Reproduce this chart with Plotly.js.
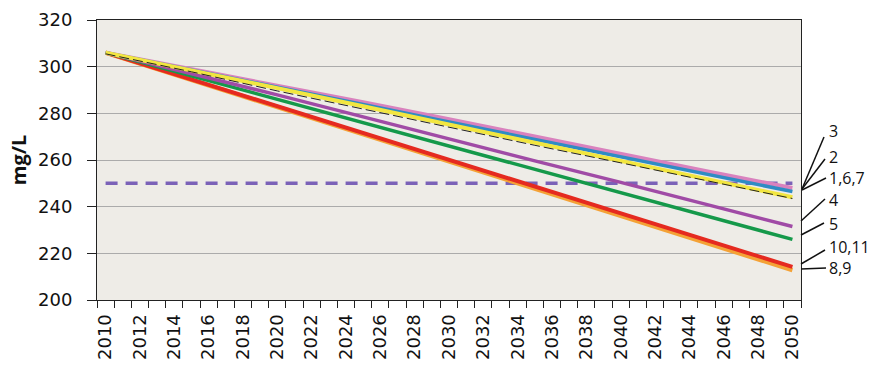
<!DOCTYPE html>
<html>
<head>
<meta charset="utf-8">
<script src="https://cdn.plot.ly/plotly-3.0.1.min.js"></script>
<style>html,body{margin:0;padding:0;background:#fff;}#chart{width:869px;height:369px;}</style>
</head>
<body>
<div id="chart"></div>
<script>
// ---- data ----
var years = [2010, 2015, 2020, 2025, 2030, 2035, 2040, 2045, 2050];
var tickYears = [2010,2012,2014,2016,2018,2020,2022,2024,2026,2028,2030,2032,2034,2036,2038,2040,2042,2044,2046,2048,2050];
var s3    = [306, 299.0, 292.0, 284.8, 277.5, 270.0, 262.6, 255.2, 248.0];
var s2    = [306, 298.7, 291.3, 283.8, 276.3, 268.8, 261.3, 253.9, 246.5];
var s167y = [306, 298.5, 290.8, 283.0, 275.2, 267.4, 259.6, 251.8, 244.0];
var s167k = [305.5, 297.8, 289.6, 281.8, 274.0, 266.3, 258.8, 251.0, 243.5];
var s4    = [306, 297.0, 287.9, 278.5, 269.0, 259.6, 250.4, 241.0, 231.5];
var s5    = [306, 296.0, 286.0, 276.0, 266.0, 256.0, 246.0, 236.0, 226.0];
var s89   = [306, 294.3, 282.6, 271.0, 259.3, 247.7, 236.0, 224.4, 212.8];
var s1011 = [306, 294.5, 283.0, 271.5, 260.0, 248.5, 237.0, 225.5, 214.2];
var standardYears = [2010, 2050];
var standard = [250, 250];
var labelTexts = ["3", "2", "1,6,7", "4", "5", "10,11", "8,9"];

// ---- layout helpers (plot area in pixels: x 97..801, y 20..300) ----
function px(x){ return (x - 97) / 704; }
function py(y){ return (300 - y) / 280; }

function line(x, y, color, width, dash){
  return {x: x, y: y, type: 'scatter', mode: 'lines', showlegend: false, hoverinfo: 'skip',
          line: {color: color, width: width, dash: dash || 'solid'}};
}

var traces = [
  line(standardYears, standard, '#7B62B8', 3.5, '12px,8px'),
  line(years, s89, '#F4A236', 4.5),
  line(years, s1011, '#E52A20', 4),
  line(years, s5, '#15994A', 3.5),
  line(years, s4, '#A04BA6', 3.5),
  line(years, s3, '#D982BE', 4),
  line(years, s2, '#2F8CC4', 3.5),
  line(years, s167y, '#F2E640', 4),
  line(years, s167k, '#222222', 1, '10px,4px')
];

var labelY = [131, 157, 178, 200, 224, 247, 268];
var leaderFrom = [[802,189],[802,189],[802,190],[801,221],[801,235],[801,264],[801,269]];
var leaderTo   = [[824,137],[825,159],[826,178],[825,199],[824,223],[825,250],[826,268]];

var annotations = labelTexts.map(function(t, i){
  return {xref:'paper', yref:'paper', x: px(827), y: py(labelY[i]), xanchor:'left', yanchor:'middle',
          text: t, showarrow:false, font:{family:'Open Sans', size:16, color:'#111'}};
});
var shapes = labelTexts.map(function(t, i){
  return {type:'line', xref:'paper', yref:'paper',
          x0: px(leaderFrom[i][0]), y0: py(leaderFrom[i][1]),
          x1: px(leaderTo[i][0]), y1: py(leaderTo[i][1]),
          line:{color:'#111', width:1.5}};
});

var layout = {
  width: 869, height: 369,
  margin: {l: 97, r: 68, t: 20, b: 69, pad: 0},
  paper_bgcolor: '#ffffff',
  plot_bgcolor: '#EEECE7',
  showlegend: false,
  font: {family: 'DejaVu Sans', color: '#111'},
  xaxis: {
    type: 'linear', range: [2009.5, 2050.5],
    tickvals: tickYears, ticktext: tickYears.map(String),
    tickangle: -90, ticks: '', showgrid: false, zeroline: false,
    showline: true, linecolor: '#222', linewidth: 1, mirror: true,
    tickfont: {family: 'DejaVu Sans', size: 18, color: '#111'},
    ticklabelstandoff: 6,
    minor: {ticks: 'outside', ticklen: 7, tick0: 2009.5, dtick: 1, tickcolor: '#222', tickwidth: 1, showgrid: false}
  },
  yaxis: {
    range: [200, 320], tickvals: [200,220,240,260,280,300,320],
    ticks: 'outside', ticklen: 9, tickcolor: '#222', tickwidth: 1,
    showgrid: true, gridcolor: '#ABABAB', gridwidth: 1, zeroline: false,
    showline: true, linecolor: '#222', linewidth: 1, mirror: true,
    tickfont: {family: 'DejaVu Sans', size: 18, color: '#111'},
    ticklabelstandoff: 11,
    title: {text: '<b>mg/L</b>', font: {family: 'Open Sans', size: 20, color: '#111'}, standoff: 6}
  },
  annotations: annotations,
  shapes: shapes
};

Plotly.newPlot('chart', traces, layout, {displayModeBar: false, staticPlot: true});
</script>
</body>
</html>
